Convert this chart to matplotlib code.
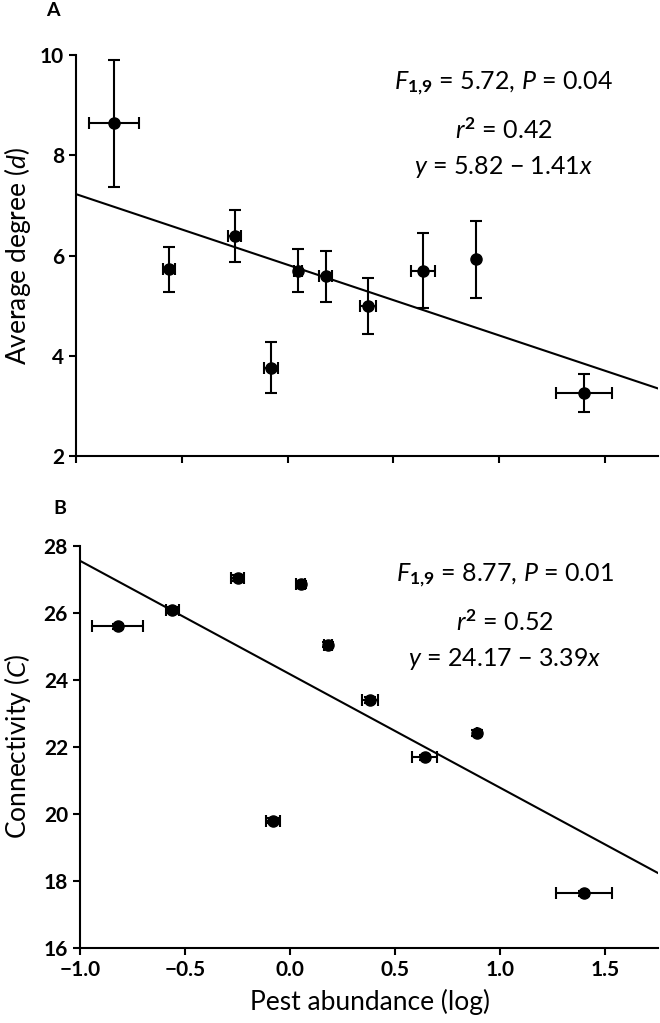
import numpy as np
import matplotlib
matplotlib.use('Agg')
import matplotlib.pyplot as plt

plt.rcParams['font.family'] = ['Lato', 'DejaVu Sans']
plt.rcParams['mathtext.fontset'] = 'custom'
plt.rcParams['mathtext.rm'] = 'Lato'
plt.rcParams['mathtext.it'] = 'Lato:italic'
plt.rcParams['mathtext.bf'] = 'Lato:bold'

# pest abundance (log) per site, same for both panels
pest_x = [-0.82, -0.56, -0.25, -0.08, 0.05, 0.18, 0.38, 0.64, 0.89, 1.40]
pest_xerr = [0.12, 0.03, 0.03, 0.033, 0.02, 0.03, 0.037, 0.058, 0.0, 0.133]

# panel A: average degree
degree = [8.64, 5.73, 6.39, 3.77, 5.70, 5.59, 4.99, 5.70, 5.93, 3.26]
degree_err = [1.26, 0.45, 0.52, 0.50, 0.43, 0.51, 0.56, 0.75, 0.77, 0.38]
fit_a = (5.82, -1.41)
stats_a = [r'$F_{\mathbf{1{,}9}}$ = 5.72, $P$ = 0.04', r'$r^{\mathbf{2}}$ = 0.42', r'$y$ = 5.82 $-$ 1.41$x$']

# panel B: connectivity
connect = [25.60, 26.09, 27.04, 19.80, 26.86, 25.05, 23.40, 21.69, 22.42, 17.63]
connect_err = [0.08, 0.08, 0.08, 0.08, 0.1, 0.08, 0.08, 0.08, 0.1, 0.08]
connect_xerr = [0.12, 0.03, 0.03, 0.033, 0.02, 0.02, 0.04, 0.06, 0.0, 0.133]
fit_b = (24.17, -3.39)
stats_b = [r'$F_{\mathbf{1{,}9}}$ = 8.77, $P$ = 0.01', r'$r^{\mathbf{2}}$ = 0.52', r'$y$ = 24.17 $-$ 3.39$x$']

fig = plt.figure(figsize=(6.6, 10.23), dpi=100)
ax_a = fig.add_axes([0.115, 0.554, 0.882, 0.392])
ax_b = fig.add_axes([0.121, 0.0733, 0.876, 0.393])

xline = np.array([-1.0, 1.75])


def draw_panel(ax, y, yerr, xerr, fit, stats, ylim, yticks, text_y):
    ax.errorbar(pest_x, y, yerr=yerr, xerr=xerr, fmt='o', color='black',
                markersize=8, elinewidth=1.5, capsize=4, capthick=1.5)
    ax.plot(xline, fit[0] + fit[1] * xline, color='black', lw=1.5)
    ax.set_xlim(-1.0, 1.75)
    ax.set_ylim(*ylim)
    ax.set_yticks(yticks)
    ax.set_xticks([-1.0, -0.5, 0.0, 0.5, 1.0, 1.5])
    for s in ['top', 'right']:
        ax.spines[s].set_visible(False)
    for s in ['left', 'bottom']:
        ax.spines[s].set_linewidth(1.5)
    ax.tick_params(direction='out', length=5, width=1.5, labelsize=15)
    for lab in ax.get_yticklabels() + ax.get_xticklabels():
        lab.set_fontweight('bold')
    for t, ty in zip(stats, text_y):
        ax.text(1.02, ty, t, ha='center', va='center', fontsize=18)


draw_panel(ax_a, degree, degree_err, pest_xerr, fit_a, stats_a,
           (2, 10), [2, 4, 6, 8, 10], [9.42, 8.5, 7.77])
ax_a.set_xticklabels([])

draw_panel(ax_b, connect, connect_err, connect_xerr, fit_b, stats_b,
           (16, 28), [16, 18, 20, 22, 24, 26, 28], [27.1, 25.72, 24.62])
ax_b.set_xticklabels(['\u22121.0', '\u22120.5', '0.0', '0.5', '1.0', '1.5'])
for lab in ax_b.get_xticklabels():
    lab.set_fontweight('bold')

fig.text(0.026, 0.75, r'Average degree ($d$)', rotation=90, ha='center', va='center', fontsize=19)
fig.text(0.026, 0.27, r'Connectivity ($C$)', rotation=90, ha='center', va='center', fontsize=19)
fig.text(0.56, 0.021, 'Pest abundance (log)', ha='center', va='center', fontsize=19)
fig.text(0.08, 0.99, 'A', ha='center', va='center', fontsize=14, fontweight='bold')
fig.text(0.091, 0.503, 'B', ha='center', va='center', fontsize=14, fontweight='bold')

fig.savefig('out.png', dpi=100)
